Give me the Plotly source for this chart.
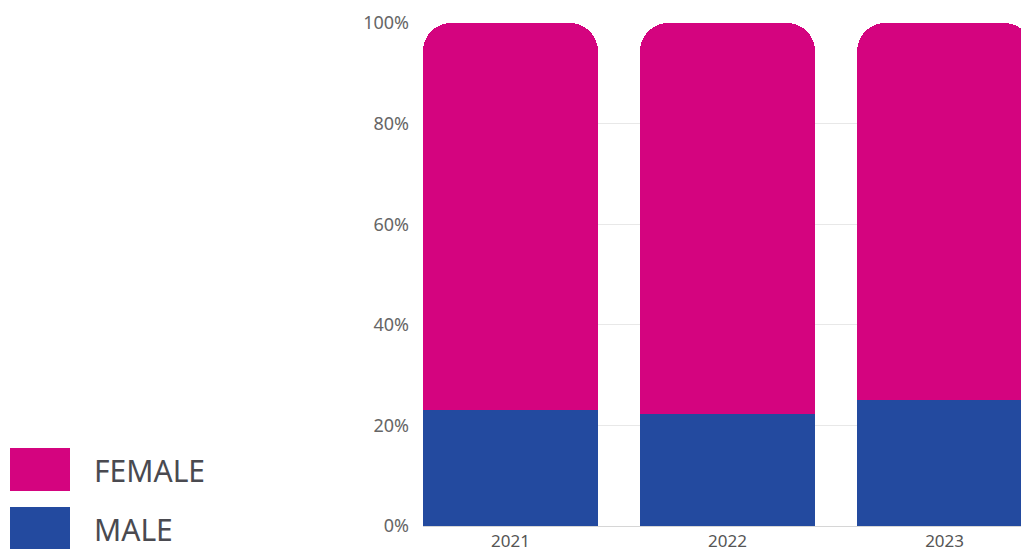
import plotly.graph_objects as go

years = ["2021", "2022", "2023"]
male = [0.231, 0.223, 0.250]
female = [1 - m for m in male]
series_names = ["FEMALE", "MALE"]
colors = {"MALE": "#234A9F", "FEMALE": "#D4047F"}

W, H = 1021, 551
L, T, B = 423, 23, 25
plot_w = W - L
plot_h = H - T - B

fig = go.Figure()
fig.add_trace(go.Bar(x=years, y=male, name="MALE", marker=dict(color=colors["MALE"], line=dict(width=0)), showlegend=False))
fig.add_trace(go.Bar(x=years, y=female, name="FEMALE", marker=dict(color=colors["FEMALE"], line=dict(width=0)), showlegend=False))

def px_x(px):
    return (px - L) / plot_w

def px_y(py):
    return (H - B - py) / plot_h

# custom legend
legend_rows = [("FEMALE", 448, 491), ("MALE", 507, 549)]
for name, y0, y1 in legend_rows:
    fig.add_shape(type="rect", xref="paper", yref="paper",
                  x0=px_x(10), x1=px_x(70), y0=px_y(y1), y1=px_y(y0),
                  fillcolor=colors[name], line=dict(width=0))
    fig.add_annotation(xref="paper", yref="paper", x=px_x(92), y=px_y((y0 + y1) / 2 + 1),
                       text=name, showarrow=False, xanchor="left", yanchor="middle",
                       font=dict(family="Noto Sans", size=30, color="#4a4a50"))

fig.update_layout(
    width=W, height=H,
    margin=dict(l=L, r=0, t=T, b=B, autoexpand=False),
    barmode="stack",
    bargap=0.194,
    barcornerradius=28,
    plot_bgcolor="white", paper_bgcolor="white",
    font=dict(family="Noto Sans", size=18, color="#666666"),
    xaxis=dict(range=[-0.403, 2.352], showgrid=False, showline=True, linecolor="#d6d6d6",
               linewidth=1, ticks="", ticklabelstandoff=0, automargin=False,
               tickfont=dict(size=17, color="#555555")),
    yaxis=dict(range=[0, 1], tickformat=".0%", dtick=0.2, showgrid=True, gridcolor="#e8e8e8",
               zeroline=False, ticks="", ticklabelstandoff=13, automargin=False,
               tickfont=dict(size=18, color="#666666")),
)

fig.write_html("out.html")
